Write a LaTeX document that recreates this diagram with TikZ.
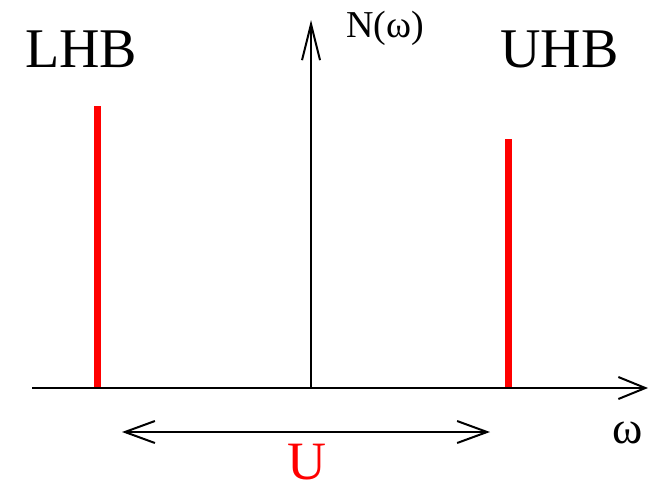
\documentclass[tikz,border=0pt]{standalone}
\usepackage{fontspec}
\setmainfont{Liberation Serif}
\usetikzlibrary{arrows.meta}
\begin{document}
\begin{tikzpicture}[x=1pt,y=-1pt,
  axis/.style={line width=2pt,black},
  hbar/.style={line width=7pt,red},
  bigtxt/.style={font=\fontsize{56}{60}\selectfont,inner sep=0pt},
  midtxt/.style={font=\fontsize{38}{42}\selectfont,inner sep=0pt},
  htip/.style={-{Straight Barb[length=27pt,width=22pt,line width=2pt]}},
  vtip/.style={-{Straight Barb[length=36pt,width=18pt,line width=2pt]}},
  dtip/.style={{Straight Barb[length=30pt,width=22pt,line width=2pt]}-{Straight Barb[length=30pt,width=22pt,line width=2pt]}}]
\useasboundingbox (0,0) rectangle (652,491);
\coordinate (xs) at (32,388);
\coordinate (xe) at (648,388);
\coordinate (o) at (311,388);
\coordinate (ye) at (311,20);
\coordinate (lb) at (97,388);
\coordinate (lt) at (97,106);
\coordinate (rb) at (508,388);
\coordinate (rt) at (508,139);
\coordinate (ul) at (122,432);
\coordinate (ur) at (490,432);
\draw[hbar] (lb) -- (lt);
\draw[hbar] (rb) -- (rt);
\draw[axis,htip] (xs) -- (xe);
\draw[axis,vtip] (o) -- (ye);
\draw[axis,dtip] (ul) -- (ur);
\node[bigtxt,anchor=base west] (lhb) at (25,67) {LHB};
\node[bigtxt,anchor=base west] (uhb) at (500,67) {UHB};
\node[midtxt,anchor=base west] (nw) at (346,37) {N(ω)};
\node[font=\fontsize{46}{50}\selectfont,inner sep=0pt,anchor=base west] (w) at (612,443) {ω};
\node[font=\fontsize{54}{58}\selectfont,inner sep=0pt,red,anchor=base] (u) at (307,479) {U};
\end{tikzpicture}
\end{document}
